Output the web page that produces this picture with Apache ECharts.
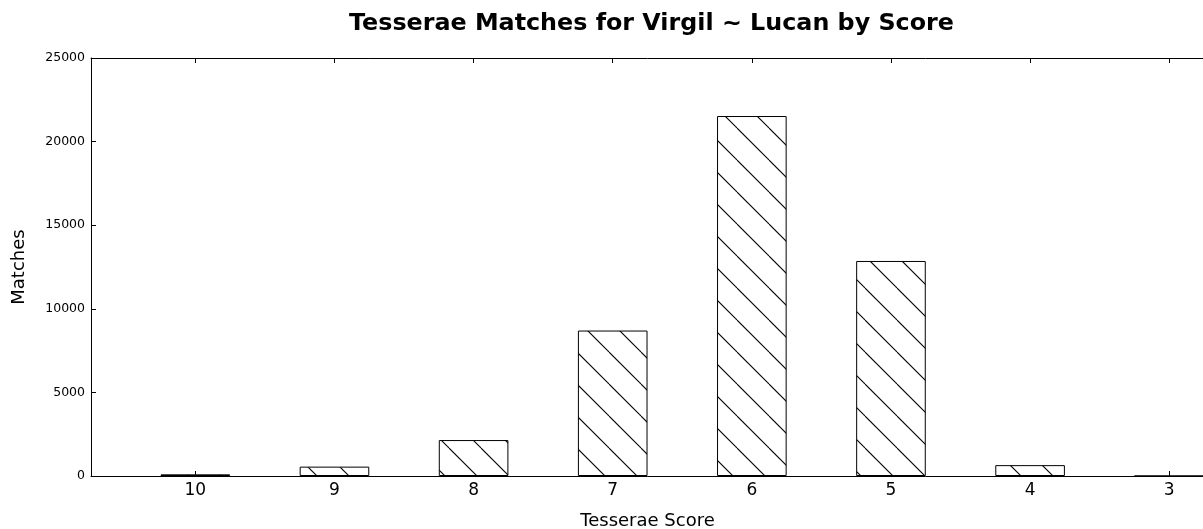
<!DOCTYPE html>
<html>
<head>
<meta charset="utf-8">
<script src="https://cdn.jsdelivr.net/npm/echarts@6/dist/echarts.min.js"></script>
<style>
    html, body { margin: 0; padding: 0; background: #fff; }
    #chart { width: 1203px; height: 529px; }
</style>
</head>
<body>
<div id="chart"></div>
<script>
    // data
    var scores = ['10', '9', '8', '7', '6', '5', '4', '3'];
    var matches = [100, 560, 2150, 8700, 21530, 12860, 650, 0];
    var yTicks = [0, 5000, 10000, 15000, 20000, 25000];

    var positions = scores.map(function (s, i) { return i; });
    var barData = matches.map(function (v, i) { return [i, v]; });

    // hatch '\\' pattern like matplotlib
    function makeHatch() {
        var c = document.createElement('canvas');
        c.width = 32;
        c.height = 32;
        var ctx = c.getContext('2d');
        ctx.fillStyle = '#fff';
        ctx.fillRect(0, 0, 32, 32);
        ctx.strokeStyle = '#000';
        ctx.lineWidth = 1.1;
        [-32, 0, 32].forEach(function (k) {
            ctx.beginPath();
            ctx.moveTo(k + 1, 0);
            ctx.lineTo(k + 33, 32);
            ctx.stroke();
        });
        return c;
    }

    var font = '"DejaVu Sans", sans-serif';
    var myChart = echarts.init(document.getElementById('chart'));
    var option = {
        backgroundColor: '#fff',
        animation: false,
        title: {
            text: 'Tesserae Matches for Virgil ~ Lucan by Score',
            left: 344,
            top: 7,
            textStyle: { fontFamily: font, fontSize: 23.8, fontWeight: 'bold', color: '#000' }
        },
        grid: { left: 91, top: 58, width: 1113, height: 418, outerBoundsMode: 'none', containLabel: false },
        xAxis: [
            {
                type: 'value',
                min: -0.75,
                max: 7.25,
                name: 'Tesserae Score',
                nameLocation: 'middle',
                nameGap: 36,
                nameTextStyle: { fontFamily: font, fontSize: 18, color: '#000' },
                axisLine: { show: true, onZero: false, lineStyle: { color: '#000', width: 1 } },
                axisTick: {
                    show: true, inside: true, length: 5,
                    customValues: positions,
                    lineStyle: { color: '#000' }
                },
                axisLabel: {
                    customValues: positions,
                    fontFamily: font, fontSize: 17, color: '#000', margin: 6,
                    formatter: function (v) { return scores[Math.round(v)]; }
                },
                splitLine: { show: false }
            },
            {
                type: 'value',
                position: 'top',
                min: -0.75,
                max: 7.25,
                axisLine: { show: true, onZero: false, lineStyle: { color: '#000', width: 1 } },
                axisTick: {
                    show: true, inside: true, length: 5,
                    customValues: positions,
                    lineStyle: { color: '#000' }
                },
                axisLabel: { show: false },
                splitLine: { show: false }
            }
        ],
        yAxis: {
            type: 'value',
            min: 0,
            max: 25000,
            interval: 5000,
            name: 'Matches',
            nameLocation: 'middle',
            nameGap: 63,
            nameRotate: 90,
            nameTextStyle: { fontFamily: font, fontSize: 18, color: '#000' },
            axisLine: { show: true, onZero: false, lineStyle: { color: '#000', width: 1 } },
            axisTick: { show: true, inside: true, length: 5, lineStyle: { color: '#000' } },
            axisLabel: {
                fontFamily: font, fontSize: 12.5, color: '#000', margin: 6,
                formatter: function (v) { return String(v); }
            },
            splitLine: { show: false }
        },
        series: [
            {
                type: 'bar',
                data: barData,
                barWidth: 69.6,
                itemStyle: {
                    color: { image: makeHatch(), repeat: 'repeat' },
                    borderColor: '#000',
                    borderWidth: 1
                }
            }
        ]
    };
    myChart.setOption(option);
</script>
</body>
</html>
